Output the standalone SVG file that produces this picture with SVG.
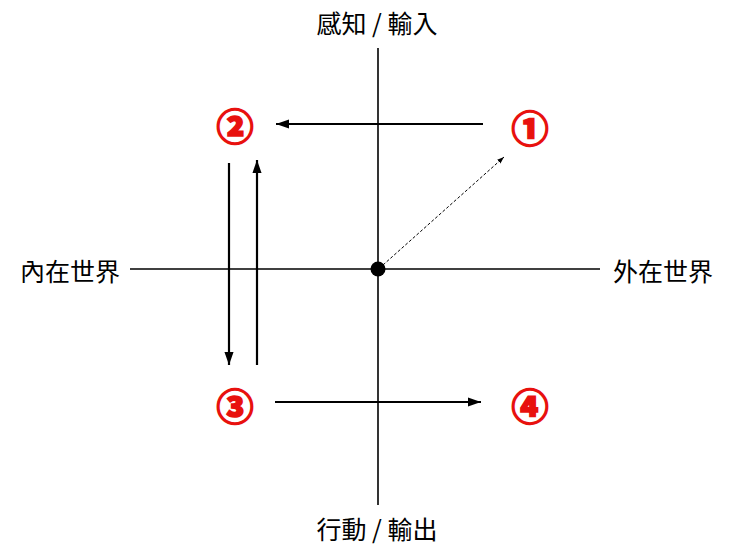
<svg xmlns="http://www.w3.org/2000/svg" width="740" height="555" viewBox="0 0 740 555">
<style>
.ax{stroke:#000;stroke-width:1.6;fill:none}
.ar{stroke:#000;stroke-width:2.2;fill:none}
.lbl{font-family:"Noto Sans CJK TC","Noto Sans CJK JP",sans-serif;font-size:25px;fill:#000;dominant-baseline:central}
.num{font-family:"Noto Sans CJK TC","Noto Sans CJK JP",sans-serif;font-size:37px;font-weight:900;fill:#e8110e;stroke:#e8110e;stroke-width:1.6;text-anchor:middle;dominant-baseline:central}
</style>
<defs>
<marker id="ah" viewBox="0 0 10 10" refX="10" refY="5" markerWidth="6" markerHeight="6" markerUnits="strokeWidth" orient="auto"><path d="M0,1.5 L10,5 L0,8.5 z" fill="#000"/></marker>
<marker id="ahs" viewBox="0 0 10 10" refX="10" refY="5" markerWidth="7" markerHeight="7" markerUnits="strokeWidth" orient="auto"><path d="M0,1.5 L10,5 L0,8.5 z" fill="#000"/></marker>
</defs>
<g id="axes">
<line class="ax" x1="378" y1="48" x2="378" y2="505"/>
<line class="ax" x1="130" y1="269" x2="600" y2="269"/>
</g>
<g id="connectors">
<line class="ar" x1="483" y1="124" x2="276" y2="124" marker-end="url(#ah)"/>
<line x1="383" y1="265" x2="504" y2="157" stroke="#000" stroke-width="1" stroke-dasharray="3,2" marker-end="url(#ahs)"/>
<line class="ar" x1="229" y1="163" x2="229" y2="365" marker-end="url(#ah)"/>
<line class="ar" x1="257" y1="365" x2="257" y2="160" marker-end="url(#ah)"/>
<line class="ar" x1="275" y1="402" x2="481" y2="402" marker-end="url(#ah)"/>
</g>
<g id="origin"><circle cx="378" cy="269" r="7.5" fill="#000"/></g>
<g id="n1"><text class="num" x="530" y="127">①</text></g>
<g id="n2"><text class="num" x="235" y="125">②</text></g>
<g id="n3"><text class="num" x="235" y="405">③</text></g>
<g id="n4"><text class="num" x="530" y="405">④</text></g>
<g id="top"><text class="lbl" x="377" y="22" text-anchor="middle">感知 / 輸入</text></g>
<g id="bottom"><text class="lbl" x="377" y="528" text-anchor="middle">行動 / 輸出</text></g>
<g id="left"><text class="lbl" x="120" y="270" text-anchor="end">內在世界</text></g>
<g id="right"><text class="lbl" x="613" y="270">外在世界</text></g>
</svg>
